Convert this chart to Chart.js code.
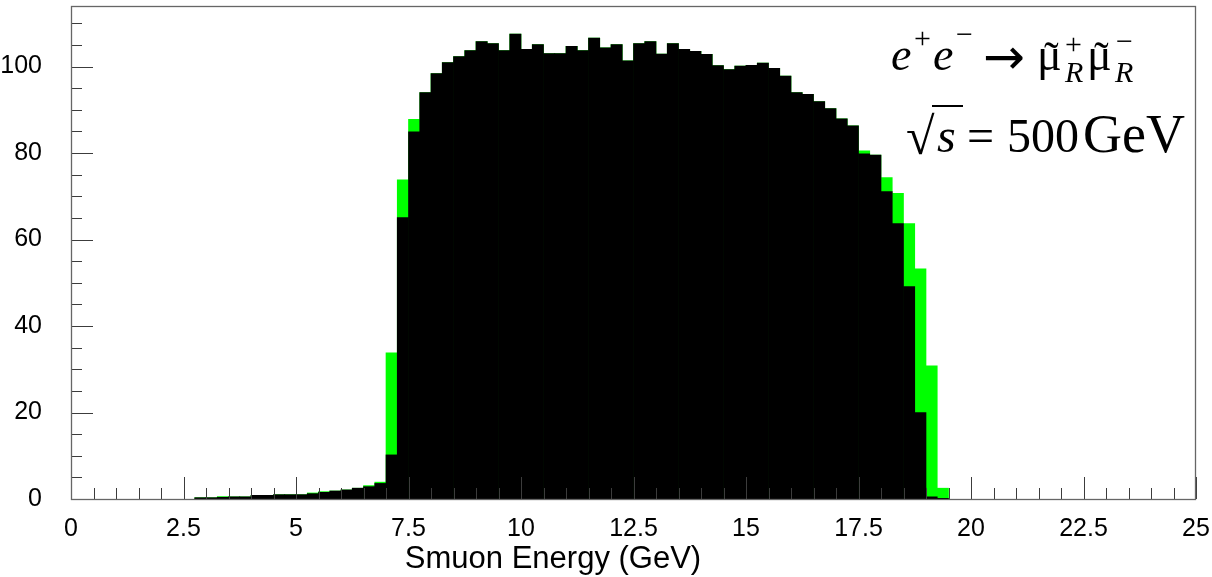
<!DOCTYPE html>
<html>
<head>
<meta charset="utf-8">
<script src="https://cdn.jsdelivr.net/npm/chart.js@4.4.1/dist/chart.umd.min.js"></script>
<style>
  html, body { margin: 0; padding: 0; background: #fff; }
  #wrap { width: 1212px; height: 577px; }
</style>
</head>
<body>
<div id="wrap"><canvas id="c" width="1212" height="577"></canvas></div>
<script>
const BIN_WIDTH = 0.25;

// lower edge of each filled bin (GeV)
const binLow = [
  2.75, 3, 3.25, 3.5, 3.75, 4, 4.25, 4.5, 4.75, 5,
  5.25, 5.5, 5.75, 6, 6.25, 6.5, 6.75, 7, 7.25, 7.5,
  7.75, 8, 8.25, 8.5, 8.75, 9, 9.25, 9.5, 9.75, 10,
  10.25, 10.5, 10.75, 11, 11.25, 11.5, 11.75, 12, 12.25, 12.5,
  12.75, 13, 13.25, 13.5, 13.75, 14, 14.25, 14.5, 14.75, 15,
  15.25, 15.5, 15.75, 16, 16.25, 16.5, 16.75, 17, 17.25, 17.5,
  17.75, 18, 18.25, 18.5, 18.75, 19, 19.25,
];

const blackCounts = [
  0.3, 0.3, 0.4, 0.5, 0.5, 0.85, 0.85, 1.0, 1.0, 1.0,
  1.23, 1.54, 1.85, 2.1, 2.5, 2.85, 3.6, 10.2, 65.1, 84.9,
  94.0, 98.4, 100.9, 102.3, 103.7, 105.8, 105.3, 103.7, 107.5, 104.0,
  105.1, 103.0, 103.0, 104.7, 103.7, 106.6, 104.3, 105.1, 101.3, 105.3,
  105.8, 102.9, 105.3, 104.0, 103.5, 102.8, 100.2, 99.3, 100.1, 100.3,
  100.8, 99.6, 97.8, 94.0, 93.6, 91.9, 90.3, 87.9, 86.3, 79.8,
  79.5, 71.1, 63.7, 49.1, 20.0, 0.5, 0.15,
];

const greenCounts = [
  0.3, 0.3, 0.55, 0.5, 0.5, 0.85, 0.85, 1.0, 1.0, 1.0,
  1.4, 1.7, 1.85, 2.1, 2.5, 3.1, 3.9, 33.8, 73.8, 87.8,
  94.0, 98.4, 100.9, 102.3, 103.7, 105.8, 105.3, 103.7, 107.5, 104.0,
  105.1, 103.0, 103.0, 104.7, 103.7, 106.6, 104.3, 105.1, 101.3, 105.3,
  105.8, 102.9, 105.3, 104.0, 103.5, 102.8, 100.2, 99.3, 100.1, 100.3,
  100.8, 99.6, 97.8, 94.0, 93.6, 91.9, 90.3, 87.9, 86.3, 80.5,
  79.5, 74.3, 70.7, 63.7, 53.2, 30.8, 2.5,
];

const xTicks = [0, 2.5, 5, 7.5, 10, 12.5, 15, 17.5, 20, 22.5, 25];
const yTicks = [0, 20, 40, 60, 80, 100];
const X_MAX = 25;
const Y_MAX = 114;
const X_MINOR = 0.5;
const Y_MINOR = 5;

const GREEN = '#00ff00';
const BLACK = '#000000';
const FRAME = '#666666';
const TICK  = '#3c3c3c';
const SANS  = '"Liberation Sans", Arial, Helvetica, sans-serif';
const SERIF = '"Liberation Serif", "Times New Roman", serif';

function toPoints(vals) {
  return vals.map((v, i) => ({ x: binLow[i] + BIN_WIDTH / 2, y: v }));
}

// ROOT style: ticks inside the frame, minor ticks half length
const axisDecor = {
  id: 'axisDecor',
  afterDatasetsDraw(chart) {
    const { ctx, chartArea: a, scales: { x, y } } = chart;
    ctx.save();
    ctx.strokeStyle = TICK;
    ctx.lineWidth = 1;
    ctx.beginPath();
    for (let k = 0; k * X_MINOR <= X_MAX + 1e-9; k++) {
      const v = k * X_MINOR;
      const px = Math.round(x.getPixelForValue(v)) + 0.5;
      const major = xTicks.some(t => Math.abs(t - v) < 1e-6);
      ctx.moveTo(px, a.bottom);
      ctx.lineTo(px, a.bottom - (major ? 22 : 11));
    }
    for (let k = 0; k * Y_MINOR <= Y_MAX; k++) {
      const v = k * Y_MINOR;
      const py = Math.round(y.getPixelForValue(v)) + 0.5;
      const major = yTicks.includes(v);
      ctx.moveTo(a.left, py);
      ctx.lineTo(a.left + (major ? 22 : 11), py);
    }
    ctx.stroke();

    ctx.strokeStyle = FRAME;
    ctx.lineWidth = 1.3;
    ctx.strokeRect(a.left + 0.5, a.top + 0.5, a.right - a.left - 1, a.bottom - a.top);
    ctx.restore();
  },
};

// axis title and the process label
const labels = {
  id: 'labels',
  afterDraw(chart) {
    const { ctx, chartArea: a } = chart;
    const R = a.right, T = a.top;
    ctx.save();
    ctx.fillStyle = '#000';
    ctx.textBaseline = 'alphabetic';

    ctx.font = `31px ${SANS}`;
    ctx.textAlign = 'center';
    ctx.fillText('Smuon Energy (GeV)', a.left + 482, a.bottom + 69);

    ctx.textAlign = 'left';
    const it = s => `italic ${s}px ${SERIF}`;
    const rm = s => `${s}px ${SERIF}`;
    const put = (txt, font, x, yb) => { ctx.font = font; ctx.fillText(txt, R + x, T + yb); };
    const tilde = (x) => {
      ctx.font = rm(46);
      const w = ctx.measureText('\u03BC').width;
      ctx.textAlign = 'center';
      ctx.font = rm(44);
      ctx.fillText('\u02DC', R + x + w / 2 + 2, T + 66);
      ctx.textAlign = 'left';
    };

    // e+ e- -> smu+_R smu-_R
    put('e', it(46), -305, 64);
    put('+', rm(30), -282, 42);
    put('e', it(46), -263, 64);
    put('\u2212', rm(30), -240, 38);
    put('\u2192', `50px "DejaVu Sans", ${SERIF}`, -213, 68);
    put('\u03BC', rm(46), -159, 64);
    tilde(-159);
    put('+', rm(30), -131, 48);
    put('R', it(30), -131, 76);
    put('\u03BC', rm(46), -109, 64);
    tilde(-109);
    put('\u2212', rm(30), -80, 45);
    put('R', it(30), -81, 76);

    // sqrt(s) = 500 GeV
    put('\u221A', rm(52), -290, 148);
    ctx.strokeStyle = '#000';
    ctx.lineWidth = 2;
    ctx.beginPath();
    ctx.moveTo(R - 264, T + 100);
    ctx.lineTo(R - 233, T + 100);
    ctx.stroke();
    put('s', it(48), -259, 146);
    put('=', rm(48), -229, 146);
    put('500', rm(48), -189, 146);
    put('GeV', rm(54), -113, 146);
    ctx.restore();
  },
};

new Chart(document.getElementById('c'), {
  type: 'bar',
  data: {
    datasets: [
      { label: 'reconstructed', data: toPoints(blackCounts), backgroundColor: BLACK, order: 0 },
      { label: 'generated',     data: toPoints(greenCounts), backgroundColor: GREEN, order: 1 },
    ],
  },
  options: {
    responsive: false, animation: false, devicePixelRatio: 1,
    layout: { padding: { top: 6, right: 16, left: 0, bottom: 0 } },
    datasets: { bar: { barPercentage: 1, categoryPercentage: 1, grouped: false, borderWidth: 0 } },
    plugins: { legend: { display: false }, tooltip: { enabled: false } },
    scales: {
      x: {
        type: 'linear', min: 0, max: X_MAX, offset: false,
        grid: { display: false, drawTicks: false }, border: { display: false },
        afterBuildTicks: s => { s.ticks = xTicks.map(v => ({ value: v })); },
        afterFit: s => { s.height = 78; s.paddingLeft = 0; s.paddingRight = 0; },
        ticks: { color: '#000', font: { family: SANS, size: 25 }, padding: 15, maxRotation: 0, autoSkip: false },
      },
      y: {
        min: 0, max: Y_MAX,
        grid: { display: false, drawTicks: false }, border: { display: false },
        afterBuildTicks: s => { s.ticks = yTicks.map(v => ({ value: v })); },
        afterFit: s => { s.width = 71; s.paddingTop = 0; s.paddingBottom = 0; },
        ticks: { color: '#000', font: { family: SANS, size: 25 }, padding: 29 },
      },
    },
  },
  plugins: [axisDecor, labels],
});
</script>
</body>
</html>
